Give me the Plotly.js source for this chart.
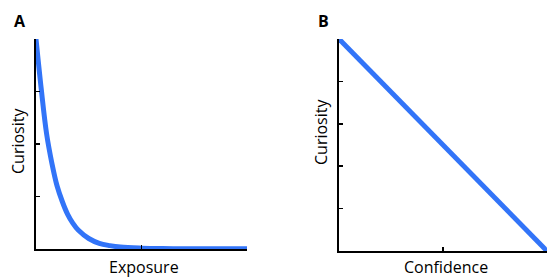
<!DOCTYPE html>
<html><head><meta charset="utf-8">
<script src="https://cdn.plot.ly/plotly-3.0.1.min.js"></script>
<style>html,body{margin:0;padding:0;background:#fff}#c{width:548px;height:279px}</style>
</head><body><div id="c"></div>
<script>
// Panel A: curiosity vs exposure (decay)
const exposure = [0, 0.25, 0.5, 0.75, 1, 1.25, 1.5, 1.75, 2, 2.5, 3, 3.5, 4, 5, 6, 7, 8, 9, 10];
const curiosityA = [1.0, 0.76, 0.55, 0.41, 0.30, 0.225, 0.165, 0.122, 0.09, 0.05, 0.027, 0.016, 0.009, 0.004, 0.002, 0.0015, 0.001, 0.001, 0.001];
// Panel B: curiosity vs confidence (straight decline)
const confidence = [0, 1];
const curiosityB = [1, 0];
const tickA_x = [5, 10];
const tickA_y = [0, 0.25, 0.5, 0.75, 1];
const tickB_x = [0.5, 1];
const tickB_y = [0, 0.2, 0.4, 0.6, 0.8, 1];

const blue = 'rgb(50,116,248)';
const W = 548, H = 279;
const px = v => v / W, py = v => 1 - v / H;

const axBase = {showgrid:false, zeroline:false, showline:true, linecolor:'#000', linewidth:2,
  ticks:'inside', ticklen:4, tickwidth:1.5, tickcolor:'#000', showticklabels:false, fixedrange:true};

const data = [
  {x: exposure, y: curiosityA, type:'scatter', mode:'lines', line:{color:blue, width:5, shape:'spline', smoothing:1}, xaxis:'x', yaxis:'y', hoverinfo:'skip'},
  {x: confidence, y: curiosityB, type:'scatter', mode:'lines', line:{color:blue, width:5}, xaxis:'x2', yaxis:'y2', hoverinfo:'skip'}
];

const font = {family:'Open Sans, sans-serif', size:16, color:'#000'};
const bold = {family:'Open Sans, sans-serif', size:16, color:'#000'};
function ann(text, x, y, f, angle) {
  return {text:text, x:px(x), y:py(y), xref:'paper', yref:'paper', showarrow:false,
    xanchor:'center', yanchor:'middle', textangle:angle || 0, font:f};
}
const layout = {
  width: W, height: H, margin:{l:0,r:0,t:0,b:0}, showlegend:false,
  paper_bgcolor:'#fff', plot_bgcolor:'#fff',
  xaxis: Object.assign({}, axBase, {domain:[px(36), px(247)], range:[0,10], tickvals:tickA_x, anchor:'y'}),
  yaxis: Object.assign({}, axBase, {domain:[py(249), py(39)], range:[0,1], tickvals:tickA_y, anchor:'x'}),
  xaxis2: Object.assign({}, axBase, {domain:[px(339), px(547)], range:[0,1], tickvals:tickB_x, anchor:'y2'}),
  yaxis2: Object.assign({}, axBase, {domain:[py(251), py(39)], range:[0,1], tickvals:tickB_y, anchor:'x2'}),
  annotations: [
    ann('<b>A</b>', 20, 21, bold),
    ann('<b>B</b>', 323, 21, bold),
    ann('Curiosity', 18, 141, font, -90),
    ann('Curiosity', 321, 132, font, -90),
    ann('Exposure', 144, 267, font),
    ann('Confidence', 446, 267, font)
  ]
};
Plotly.newPlot('c', data, layout, {staticPlot:true, displayModeBar:false});
</script></body></html>
